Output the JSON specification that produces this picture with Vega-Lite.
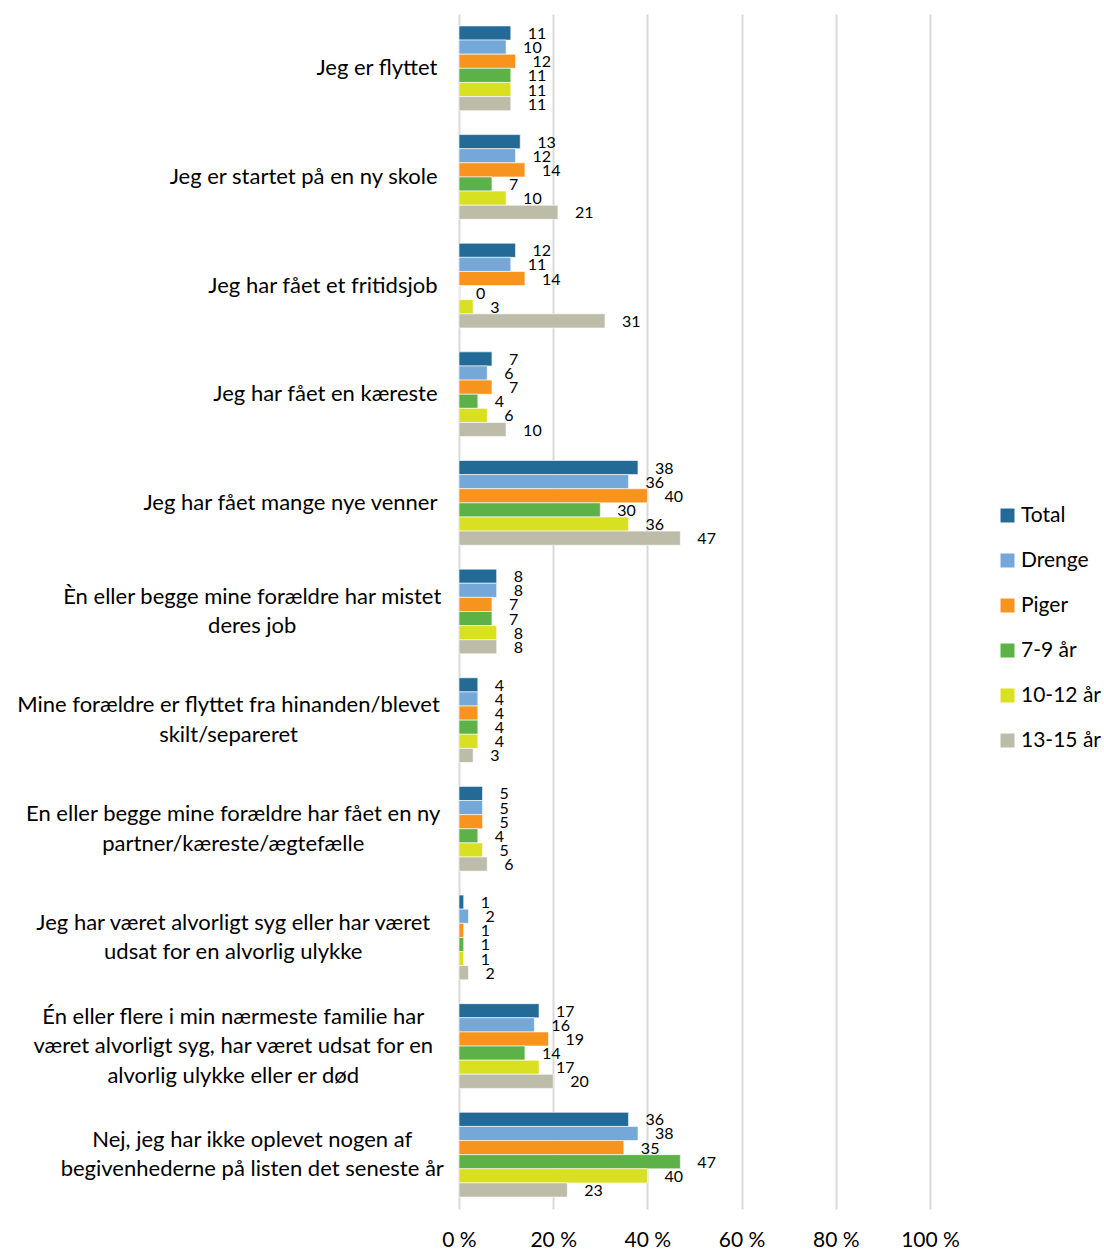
{
  "$schema": "https://vega.github.io/schema/vega-lite/v6.json",
  "autosize": "none",
  "padding": {"left": 459, "top": 14, "right": 174, "bottom": 41},
  "width": 471,
  "height": 1195,
  "background": "white",
  "config": {
    "font": "Lato",
    "view": {"stroke": null}
  },
  "data": {
    "values": [
      {"cat": "Jeg er flyttet", "series": "Total", "value": 11},
      {"cat": "Jeg er flyttet", "series": "Drenge", "value": 10},
      {"cat": "Jeg er flyttet", "series": "Piger", "value": 12},
      {"cat": "Jeg er flyttet", "series": "7-9 år", "value": 11},
      {"cat": "Jeg er flyttet", "series": "10-12 år", "value": 11},
      {"cat": "Jeg er flyttet", "series": "13-15 år", "value": 11},
      {"cat": "Jeg er startet på en ny skole", "series": "Total", "value": 13},
      {"cat": "Jeg er startet på en ny skole", "series": "Drenge", "value": 12},
      {"cat": "Jeg er startet på en ny skole", "series": "Piger", "value": 14},
      {"cat": "Jeg er startet på en ny skole", "series": "7-9 år", "value": 7},
      {"cat": "Jeg er startet på en ny skole", "series": "10-12 år", "value": 10},
      {"cat": "Jeg er startet på en ny skole", "series": "13-15 år", "value": 21},
      {"cat": "Jeg har fået et fritidsjob", "series": "Total", "value": 12},
      {"cat": "Jeg har fået et fritidsjob", "series": "Drenge", "value": 11},
      {"cat": "Jeg har fået et fritidsjob", "series": "Piger", "value": 14},
      {"cat": "Jeg har fået et fritidsjob", "series": "7-9 år", "value": 0},
      {"cat": "Jeg har fået et fritidsjob", "series": "10-12 år", "value": 3},
      {"cat": "Jeg har fået et fritidsjob", "series": "13-15 år", "value": 31},
      {"cat": "Jeg har fået en kæreste", "series": "Total", "value": 7},
      {"cat": "Jeg har fået en kæreste", "series": "Drenge", "value": 6},
      {"cat": "Jeg har fået en kæreste", "series": "Piger", "value": 7},
      {"cat": "Jeg har fået en kæreste", "series": "7-9 år", "value": 4},
      {"cat": "Jeg har fået en kæreste", "series": "10-12 år", "value": 6},
      {"cat": "Jeg har fået en kæreste", "series": "13-15 år", "value": 10},
      {"cat": "Jeg har fået mange nye venner", "series": "Total", "value": 38},
      {"cat": "Jeg har fået mange nye venner", "series": "Drenge", "value": 36},
      {"cat": "Jeg har fået mange nye venner", "series": "Piger", "value": 40},
      {"cat": "Jeg har fået mange nye venner", "series": "7-9 år", "value": 30},
      {"cat": "Jeg har fået mange nye venner", "series": "10-12 år", "value": 36},
      {"cat": "Jeg har fået mange nye venner", "series": "13-15 år", "value": 47},
      {"cat": "Èn eller begge mine forældre har mistet\nderes job", "series": "Total", "value": 8},
      {"cat": "Èn eller begge mine forældre har mistet\nderes job", "series": "Drenge", "value": 8},
      {"cat": "Èn eller begge mine forældre har mistet\nderes job", "series": "Piger", "value": 7},
      {"cat": "Èn eller begge mine forældre har mistet\nderes job", "series": "7-9 år", "value": 7},
      {"cat": "Èn eller begge mine forældre har mistet\nderes job", "series": "10-12 år", "value": 8},
      {"cat": "Èn eller begge mine forældre har mistet\nderes job", "series": "13-15 år", "value": 8},
      {"cat": "Mine forældre er flyttet fra hinanden/blevet\nskilt/separeret", "series": "Total", "value": 4},
      {"cat": "Mine forældre er flyttet fra hinanden/blevet\nskilt/separeret", "series": "Drenge", "value": 4},
      {"cat": "Mine forældre er flyttet fra hinanden/blevet\nskilt/separeret", "series": "Piger", "value": 4},
      {"cat": "Mine forældre er flyttet fra hinanden/blevet\nskilt/separeret", "series": "7-9 år", "value": 4},
      {"cat": "Mine forældre er flyttet fra hinanden/blevet\nskilt/separeret", "series": "10-12 år", "value": 4},
      {"cat": "Mine forældre er flyttet fra hinanden/blevet\nskilt/separeret", "series": "13-15 år", "value": 3},
      {"cat": "En eller begge mine forældre har fået en ny\npartner/kæreste/ægtefælle", "series": "Total", "value": 5},
      {"cat": "En eller begge mine forældre har fået en ny\npartner/kæreste/ægtefælle", "series": "Drenge", "value": 5},
      {"cat": "En eller begge mine forældre har fået en ny\npartner/kæreste/ægtefælle", "series": "Piger", "value": 5},
      {"cat": "En eller begge mine forældre har fået en ny\npartner/kæreste/ægtefælle", "series": "7-9 år", "value": 4},
      {"cat": "En eller begge mine forældre har fået en ny\npartner/kæreste/ægtefælle", "series": "10-12 år", "value": 5},
      {"cat": "En eller begge mine forældre har fået en ny\npartner/kæreste/ægtefælle", "series": "13-15 år", "value": 6},
      {"cat": "Jeg har været alvorligt syg eller har været\nudsat for en alvorlig ulykke", "series": "Total", "value": 1},
      {"cat": "Jeg har været alvorligt syg eller har været\nudsat for en alvorlig ulykke", "series": "Drenge", "value": 2},
      {"cat": "Jeg har været alvorligt syg eller har været\nudsat for en alvorlig ulykke", "series": "Piger", "value": 1},
      {"cat": "Jeg har været alvorligt syg eller har været\nudsat for en alvorlig ulykke", "series": "7-9 år", "value": 1},
      {"cat": "Jeg har været alvorligt syg eller har været\nudsat for en alvorlig ulykke", "series": "10-12 år", "value": 1},
      {"cat": "Jeg har været alvorligt syg eller har været\nudsat for en alvorlig ulykke", "series": "13-15 år", "value": 2},
      {"cat": "Én eller flere i min nærmeste familie har\nværet alvorligt syg, har været udsat for en\nalvorlig ulykke eller er død", "series": "Total", "value": 17},
      {"cat": "Én eller flere i min nærmeste familie har\nværet alvorligt syg, har været udsat for en\nalvorlig ulykke eller er død", "series": "Drenge", "value": 16},
      {"cat": "Én eller flere i min nærmeste familie har\nværet alvorligt syg, har været udsat for en\nalvorlig ulykke eller er død", "series": "Piger", "value": 19},
      {"cat": "Én eller flere i min nærmeste familie har\nværet alvorligt syg, har været udsat for en\nalvorlig ulykke eller er død", "series": "7-9 år", "value": 14},
      {"cat": "Én eller flere i min nærmeste familie har\nværet alvorligt syg, har været udsat for en\nalvorlig ulykke eller er død", "series": "10-12 år", "value": 17},
      {"cat": "Én eller flere i min nærmeste familie har\nværet alvorligt syg, har været udsat for en\nalvorlig ulykke eller er død", "series": "13-15 år", "value": 20},
      {"cat": "Nej, jeg har ikke oplevet nogen af\nbegivenhederne på listen det seneste år", "series": "Total", "value": 36},
      {"cat": "Nej, jeg har ikke oplevet nogen af\nbegivenhederne på listen det seneste år", "series": "Drenge", "value": 38},
      {"cat": "Nej, jeg har ikke oplevet nogen af\nbegivenhederne på listen det seneste år", "series": "Piger", "value": 35},
      {"cat": "Nej, jeg har ikke oplevet nogen af\nbegivenhederne på listen det seneste år", "series": "7-9 år", "value": 47},
      {"cat": "Nej, jeg har ikke oplevet nogen af\nbegivenhederne på listen det seneste år", "series": "10-12 år", "value": 40},
      {"cat": "Nej, jeg har ikke oplevet nogen af\nbegivenhederne på listen det seneste år", "series": "13-15 år", "value": 23}
    ]
  },
  "encoding": {
    "y": {
      "field": "cat",
      "type": "nominal",
      "sort": null,
      "scale": {"paddingInner": 0.22, "paddingOuter": 0.11},
      "axis": {
        "title": null,
        "domain": false,
        "ticks": false,
        "labelFont": "Lato",
        "labelFontSize": 22,
        "labelColor": "#000000",
        "labelLineHeight": 29.5,
        "labelLimit": 0,
        "labelExpr": "split(datum.label, '\\n')",
        "labelOffset": {"expr": "-(length(split(datum.label, '\\n')) - 1) * 14.75"},
        "labelAlign": {"expr": "length(split(datum.label, '\\n')) > 1 ? 'center' : 'right'"},
        "labelPadding": {"expr": "length(split(datum.label, '\\n')) > 1 ? 22 + max(length(split(datum.label, '\\n')[0]), length(split(datum.label, '\\n')[1])) * 4.75 : 22"}
      }
    },
    "yOffset": {
      "field": "series",
      "type": "nominal",
      "sort": ["Total", "Drenge", "Piger", "7-9 år", "10-12 år", "13-15 år"],
      "scale": {"paddingInner": 0, "paddingOuter": 0}
    },
    "x": {
      "field": "value",
      "type": "quantitative",
      "scale": {"domain": [0, 100], "nice": false},
      "axis": {
        "title": null,
        "values": [0, 20, 40, 60, 80, 100],
        "labelExpr": "datum.value + ' %'",
        "labelFlush": false,
        "domain": false,
        "ticks": false,
        "grid": true,
        "gridColor": "#d9d9d9",
        "gridWidth": 2,
        "labelFont": "Lato",
        "labelFontSize": 21,
        "labelColor": "#000000",
        "labelPadding": 20
      }
    }
  },
  "layer": [
    {
      "mark": {"type": "bar", "stroke": "white", "strokeWidth": 0.6},
      "encoding": {
        "color": {
          "field": "series",
          "type": "nominal",
          "scale": {
            "domain": ["Total", "Drenge", "Piger", "7-9 år", "10-12 år", "13-15 år"],
            "range": ["#246a96", "#73a8d8", "#f7941d", "#5cb247", "#d9e021", "#bcbca8"]
          },
          "legend": {
            "title": null,
            "orient": "none",
            "legendX": 538,
            "legendY": 491,
            "symbolType": "square",
            "symbolSize": 196,
            "symbolStrokeWidth": 0,
            "labelFont": "Lato",
            "labelFontSize": 21,
            "labelColor": "#000000",
            "labelOffset": 3,
            "rowPadding": 23
          }
        }
      }
    },
    {
      "mark": {"type": "text", "align": "left", "baseline": "middle", "dx": 17, "dy": 1, "fontSize": 16, "font": "Lato", "color": "#000000"},
      "encoding": {
        "text": {"field": "value", "type": "quantitative", "format": "d"}
      }
    }
  ]
}
